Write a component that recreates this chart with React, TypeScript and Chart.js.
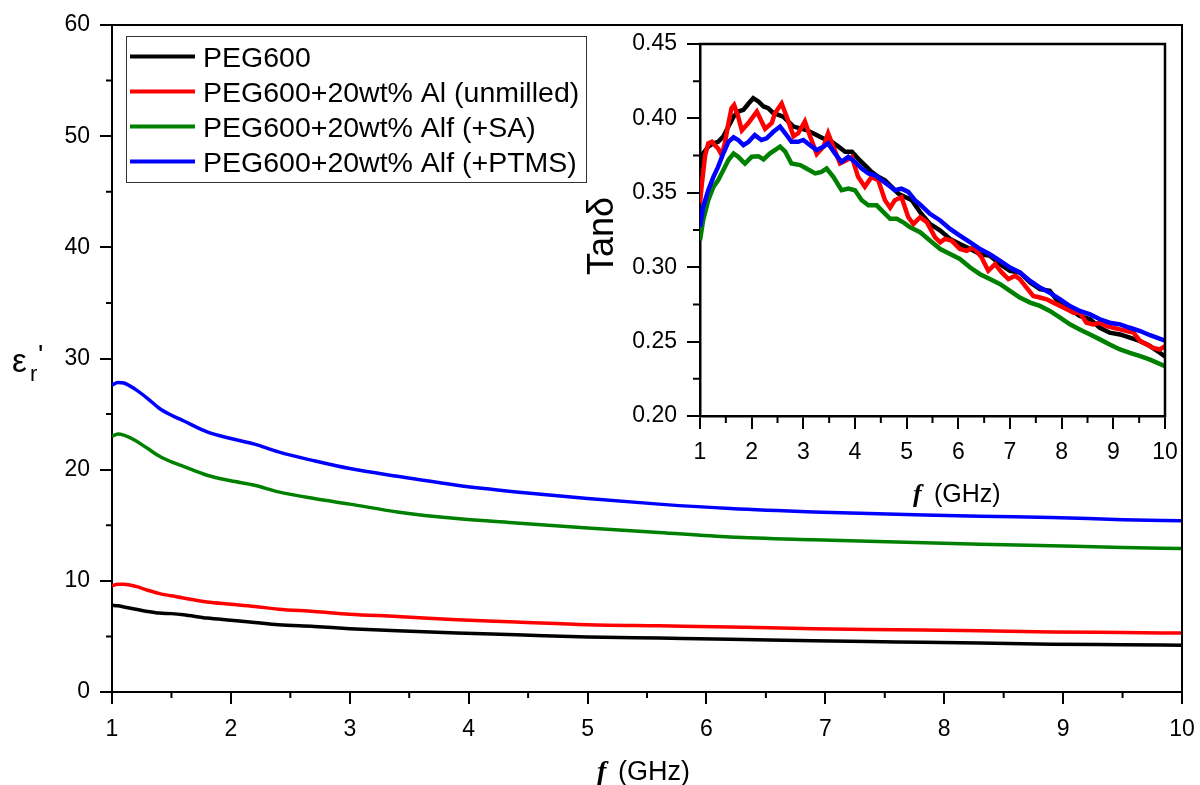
import React, { useEffect, useRef } from "react";
import { Chart, registerables } from "chart.js";

Chart.register(...registerables);

const SANS = '"Liberation Sans", Arial, sans-serif';
const SERIF = '"Liberation Serif", "Times New Roman", serif';

const seriesNames = [
  "PEG600",
  "PEG600+20wt% Al (unmilled)",
  "PEG600+20wt% Alf (+SA)",
  "PEG600+20wt% Alf (+PTMS)",
];
const seriesColors = ["#000000", "#ff0000", "#008000", "#0000ff"];

// ---- main chart: real permittivity vs frequency ----
const epsFreq = [1, 1.05, 1.1, 1.2, 1.3, 1.4, 1.5, 1.6, 1.8, 2.0, 2.2, 2.4, 2.7, 3.0, 3.4, 3.9, 4.4, 5.0, 5.6, 6.2, 6.9, 7.6, 8.3, 8.9, 9.5, 10];
const epsPEG = [7.8, 7.75, 7.65, 7.45, 7.25, 7.1, 7.05, 6.95, 6.65, 6.45, 6.25, 6.05, 5.9, 5.7, 5.5, 5.3, 5.15, 4.95, 4.85, 4.75, 4.6, 4.5, 4.4, 4.3, 4.25, 4.2];
const epsAl = [9.55, 9.7, 9.7, 9.5, 9.15, 8.85, 8.65, 8.45, 8.1, 7.9, 7.7, 7.45, 7.25, 7.0, 6.8, 6.5, 6.3, 6.05, 5.95, 5.85, 5.7, 5.6, 5.5, 5.4, 5.35, 5.3];
const epsSA = [23.0, 23.2, 23.1, 22.6, 21.9, 21.2, 20.7, 20.3, 19.5, 19.0, 18.6, 18.0, 17.4, 16.9, 16.2, 15.6, 15.2, 14.75, 14.35, 13.95, 13.7, 13.5, 13.3, 13.15, 13.0, 12.9];
const epsPTMS = [27.6, 27.85, 27.8, 27.2, 26.4, 25.5, 24.9, 24.4, 23.4, 22.8, 22.3, 21.6, 20.8, 20.1, 19.4, 18.6, 18.0, 17.4, 16.9, 16.5, 16.2, 16.0, 15.8, 15.7, 15.5, 15.4];

const mainXTicks = [1, 2, 3, 4, 5, 6, 7, 8, 9, 10];
const mainYTicks = [0, 10, 20, 30, 40, 50, 60];

// ---- inset: loss tangent vs frequency ----
const tanFreqPEG = [1.0, 1.03, 1.06, 1.16, 1.26, 1.35, 1.45, 1.55, 1.65, 1.74, 1.84, 1.94, 2.03, 2.13, 2.23, 2.32, 2.42, 2.52, 2.61, 2.71, 2.81, 2.94, 3.06, 3.19, 3.32, 3.45, 3.55, 3.68, 3.81, 3.94, 4.06, 4.19, 4.32, 4.45, 4.58, 4.71, 4.84, 4.97, 5.1, 5.26, 5.45, 5.65, 5.84, 6.03, 6.23, 6.42, 6.61, 6.81, 7.0, 7.19, 7.39, 7.58, 7.77, 7.97, 8.16, 8.35, 8.55, 8.74, 8.93, 9.13, 9.32, 9.52, 9.71, 9.9, 10.0];
const tanPEG = [0.36, 0.372, 0.3764, 0.381, 0.3832, 0.3843, 0.3877, 0.3945, 0.4012, 0.4046, 0.4057, 0.41, 0.4136, 0.4114, 0.408, 0.4069, 0.4035, 0.4024, 0.4012, 0.3978, 0.3945, 0.3933, 0.3922, 0.39, 0.3877, 0.3855, 0.3843, 0.381, 0.3776, 0.3776, 0.373, 0.3686, 0.3641, 0.3607, 0.3584, 0.354, 0.3494, 0.3472, 0.345, 0.337, 0.3291, 0.3246, 0.319, 0.3156, 0.3122, 0.3088, 0.3077, 0.3021, 0.2976, 0.2965, 0.2897, 0.2852, 0.2841, 0.2751, 0.2717, 0.2672, 0.265, 0.2593, 0.256, 0.2548, 0.2526, 0.2503, 0.247, 0.2425, 0.24];

const tanFreqAl = [1.0, 1.03, 1.1, 1.16, 1.23, 1.29, 1.35, 1.42, 1.48, 1.55, 1.61, 1.66, 1.73, 1.81, 1.94, 2.1, 2.26, 2.39, 2.45, 2.58, 2.68, 2.81, 2.9, 3.03, 3.13, 3.26, 3.39, 3.48, 3.58, 3.71, 3.84, 3.94, 4.06, 4.19, 4.32, 4.45, 4.58, 4.68, 4.77, 4.9, 5.03, 5.13, 5.26, 5.39, 5.55, 5.65, 5.74, 5.87, 6.03, 6.16, 6.29, 6.45, 6.58, 6.71, 6.84, 6.97, 7.1, 7.19, 7.32, 7.45, 7.58, 7.71, 7.84, 7.97, 8.1, 8.23, 8.35, 8.48, 8.61, 8.74, 8.87, 9.0, 9.13, 9.26, 9.39, 9.52, 9.65, 9.77, 9.9, 10.0];
const tanAl = [0.343, 0.354, 0.3753, 0.3832, 0.3843, 0.382, 0.3798, 0.3753, 0.3832, 0.3967, 0.4068, 0.409, 0.4023, 0.392, 0.397, 0.4046, 0.393, 0.397, 0.4035, 0.41, 0.401, 0.388, 0.39, 0.398, 0.388, 0.376, 0.381, 0.39, 0.381, 0.3697, 0.372, 0.374, 0.3607, 0.354, 0.3607, 0.3584, 0.345, 0.34, 0.345, 0.347, 0.3337, 0.329, 0.3336, 0.3303, 0.3201, 0.3167, 0.319, 0.3179, 0.3122, 0.311, 0.3133, 0.3066, 0.2976, 0.3021, 0.2965, 0.292, 0.2942, 0.292, 0.2863, 0.2807, 0.2796, 0.2784, 0.2762, 0.274, 0.2717, 0.2694, 0.2694, 0.2627, 0.2616, 0.2627, 0.2604, 0.2593, 0.2582, 0.2571, 0.256, 0.2503, 0.2481, 0.2458, 0.2447, 0.247];

const tanFreqSA = [1.0, 1.06, 1.16, 1.26, 1.35, 1.45, 1.55, 1.65, 1.74, 1.87, 2.0, 2.13, 2.23, 2.35, 2.55, 2.65, 2.77, 2.94, 3.06, 3.23, 3.35, 3.45, 3.58, 3.74, 3.87, 4.0, 4.13, 4.26, 4.42, 4.55, 4.68, 4.81, 4.94, 5.06, 5.26, 5.45, 5.65, 5.84, 6.03, 6.23, 6.42, 6.61, 6.81, 7.0, 7.19, 7.39, 7.58, 7.77, 7.97, 8.16, 8.35, 8.55, 8.74, 8.93, 9.13, 9.32, 9.52, 9.71, 10.0];
const tanSA = [0.318, 0.3314, 0.345, 0.354, 0.3584, 0.3652, 0.372, 0.3764, 0.3742, 0.3697, 0.3742, 0.3746, 0.3724, 0.3764, 0.381, 0.3776, 0.3697, 0.3686, 0.3663, 0.363, 0.3641, 0.3663, 0.3607, 0.3517, 0.3528, 0.3517, 0.345, 0.3416, 0.3416, 0.337, 0.3325, 0.3325, 0.33, 0.3269, 0.3235, 0.3179, 0.3122, 0.3088, 0.3055, 0.2998, 0.2953, 0.292, 0.2886, 0.2841, 0.2796, 0.2762, 0.274, 0.2706, 0.2661, 0.2616, 0.2582, 0.2548, 0.2515, 0.2481, 0.2447, 0.2424, 0.2402, 0.2379, 0.2334];

const tanFreqPTMS = [1.0, 1.06, 1.16, 1.26, 1.35, 1.45, 1.55, 1.65, 1.74, 1.84, 1.94, 2.06, 2.19, 2.29, 2.42, 2.55, 2.65, 2.77, 2.9, 3.0, 3.13, 3.26, 3.39, 3.48, 3.61, 3.74, 3.87, 4.0, 4.13, 4.26, 4.39, 4.52, 4.65, 4.77, 4.9, 5.03, 5.16, 5.26, 5.45, 5.65, 5.84, 6.03, 6.23, 6.42, 6.61, 6.81, 7.0, 7.19, 7.39, 7.58, 7.77, 7.97, 8.16, 8.35, 8.55, 8.74, 8.93, 9.13, 9.32, 9.52, 9.71, 10.0];
const tanPTMS = [0.327, 0.3404, 0.3517, 0.3607, 0.3674, 0.3764, 0.3843, 0.3873, 0.3855, 0.382, 0.3843, 0.3888, 0.3855, 0.3866, 0.391, 0.3945, 0.39, 0.3843, 0.3843, 0.3855, 0.382, 0.3787, 0.381, 0.3832, 0.3764, 0.3708, 0.3742, 0.3708, 0.3663, 0.363, 0.3618, 0.3584, 0.355, 0.3517, 0.3528, 0.3506, 0.345, 0.3422, 0.3359, 0.3314, 0.3257, 0.3212, 0.3167, 0.3122, 0.3088, 0.3043, 0.2998, 0.2965, 0.2908, 0.2863, 0.2829, 0.2784, 0.2739, 0.2706, 0.2683, 0.265, 0.2627, 0.2616, 0.2593, 0.2571, 0.2543, 0.2507];

const insetXTicks = [1, 2, 3, 4, 5, 6, 7, 8, 9, 10];
const insetYTicks = [0.2, 0.25, 0.3, 0.35, 0.4, 0.45];

const pts = (xs: number[], ys: number[]) => xs.map((x, i) => ({ x, y: ys[i] }));

function minorValues(ticks: number[]) {
  const out: number[] = [];
  for (let i = 0; i < ticks.length - 1; i++) out.push((ticks[i] + ticks[i + 1]) / 2);
  return out;
}

function frameAndMinorPlugin(id: string, frameWidth: number, minorLen: number) {
  return {
    id,
    afterDraw(chart: any) {
      const ctx = chart.ctx;
      const { left, right, top, bottom } = chart.chartArea;
      const xs = chart.scales.x;
      const ys = chart.scales.y;
      ctx.save();
      ctx.strokeStyle = "#000";
      ctx.lineWidth = frameWidth;
      ctx.lineCap = "square";
      ctx.beginPath();
      ctx.moveTo(left, top);
      ctx.lineTo(right, top);
      ctx.lineTo(right, bottom);
      ctx.stroke();
      ctx.lineCap = "butt";
      ctx.lineWidth = 2;
      const xt = xs.ticks.map((t: any) => t.value);
      const yt = ys.ticks.map((t: any) => t.value);
      ctx.beginPath();
      for (const v of minorValues(xt)) {
        const px = xs.getPixelForValue(v);
        ctx.moveTo(px, bottom);
        ctx.lineTo(px, bottom + minorLen);
      }
      for (const v of minorValues(yt)) {
        const py = ys.getPixelForValue(v);
        ctx.moveTo(left, py);
        ctx.lineTo(left - minorLen, py);
      }
      ctx.stroke();
      ctx.restore();
    },
  };
}

const mainDecor = {
  id: "mainDecor",
  afterDraw(chart: any) {
    const ctx = chart.ctx;
    ctx.save();
    // legend
    ctx.strokeStyle = "#333";
    ctx.lineWidth = 1;
    ctx.strokeRect(126.5, 36.5, 460, 146);
    chart.data.datasets.forEach((ds: any, i: number) => {
      const cy = 56.5 + i * 35;
      ctx.strokeStyle = ds.borderColor;
      ctx.lineWidth = 4;
      ctx.beginPath();
      ctx.moveTo(130, cy);
      ctx.lineTo(195, cy);
      ctx.stroke();
      ctx.fillStyle = "#000";
      ctx.font = `28.5px ${SANS}`;
      ctx.textAlign = "left";
      ctx.textBaseline = "alphabetic";
      ctx.fillText(ds.label, 203, cy + 10);
    });
    // y title  ε_r'
    ctx.fillStyle = "#000";
    ctx.font = `33px ${SANS}`;
    ctx.fillText("ε", 12, 372);
    ctx.font = `22px ${SANS}`;
    ctx.fillText("r", 30, 381);
    ctx.font = `28px ${SANS}`;
    ctx.fillText("'", 38, 364);
    // x title  f (GHz)
    ctx.font = `italic bold 28px ${SERIF}`;
    ctx.fillText("f", 597, 780);
    ctx.font = `27px ${SANS}`;
    ctx.fillText("(GHz)", 618, 780);
    ctx.restore();
  },
};

const insetDecor = {
  id: "insetDecor",
  afterDraw(chart: any) {
    const ctx = chart.ctx;
    ctx.save();
    ctx.fillStyle = "#000";
    // x title (canvas offset 560,0)
    ctx.font = `italic bold 26px ${SERIF}`;
    ctx.textBaseline = "alphabetic";
    ctx.fillText("f", 913 - 560, 502);
    ctx.font = `25px ${SANS}`;
    ctx.fillText("(GHz)", 934 - 560, 502);
    // y title
    ctx.translate(603 - 560, 236);
    ctx.rotate(-Math.PI / 2);
    ctx.font = `36px ${SANS}`;
    ctx.textAlign = "center";
    ctx.textBaseline = "middle";
    ctx.fillText("Tanδ", 0, 0);
    ctx.restore();
  },
};

function axisCommon(tickLen: number, pad: number, borderW: number) {
  return {
    type: "linear" as const,
    grid: {
      drawOnChartArea: false,
      drawTicks: true,
      tickLength: tickLen,
      color: "#000",
      lineWidth: 2,
    },
    border: { display: true, color: "#000", width: borderW },
    ticks: {
      color: "#000",
      font: { family: SANS, size: 23 },
      padding: pad,
      autoSkip: false,
      maxRotation: 0,
    },
  };
}

function fixX(h: number) {
  return (s: any) => {
    s.height = h;
    s.paddingLeft = 0;
    s.paddingRight = 0;
  };
}
function fixY(w: number) {
  return (s: any) => {
    s.width = w;
    s.paddingTop = 0;
    s.paddingBottom = 0;
  };
}

export default function App() {
  const mainRef = useRef<HTMLCanvasElement>(null);
  const insetRef = useRef<HTMLCanvasElement>(null);

  useEffect(() => {
    const mainData = [epsPEG, epsAl, epsSA, epsPTMS];
    const main = new Chart(mainRef.current!, {
      type: "line",
      data: {
        datasets: mainData.map((ys, i) => ({
          label: seriesNames[i],
          data: pts(epsFreq, ys),
          borderColor: seriesColors[i],
          backgroundColor: seriesColors[i],
          borderWidth: 3.5,
          pointRadius: 0,
          cubicInterpolationMode: "monotone" as const,
          order: 3 - i,
        })),
      },
      options: {
        responsive: false,
        animation: false,
        devicePixelRatio: 1,
        layout: { padding: { top: 25, right: 18, left: 0, bottom: 0 } },
        plugins: { legend: { display: false }, tooltip: { enabled: false } },
        scales: {
          x: {
            ...axisCommon(12, 12, 2),
            min: 1,
            max: 10,
            afterBuildTicks: (s: any) => {
              s.ticks = mainXTicks.map((v) => ({ value: v }));
            },
            afterFit: fixX(93),
          },
          y: {
            ...axisCommon(12, 10, 2),
            min: 0,
            max: 60,
            afterBuildTicks: (s: any) => {
              s.ticks = mainYTicks.map((v) => ({ value: v }));
            },
            afterFit: fixY(112),
          },
        },
      } as any,
      plugins: [frameAndMinorPlugin("mainFrame", 2, 6), mainDecor],
    });

    const insetX = [tanFreqPEG, tanFreqAl, tanFreqSA, tanFreqPTMS];
    const insetY = [tanPEG, tanAl, tanSA, tanPTMS];
    const inset = new Chart(insetRef.current!, {
      type: "line",
      data: {
        datasets: insetY.map((ys, i) => ({
          label: seriesNames[i],
          data: pts(insetX[i], ys),
          borderColor: seriesColors[i],
          backgroundColor: seriesColors[i],
          borderWidth: 4.5,
          pointRadius: 0,
          tension: 0,
          order: 3 - i,
        })),
      },
      options: {
        responsive: false,
        animation: false,
        devicePixelRatio: 1,
        layout: { padding: { top: 44, right: 15, left: 0, bottom: 0 } },
        plugins: { legend: { display: false }, tooltip: { enabled: false } },
        scales: {
          x: {
            ...axisCommon(13, 10, 2.5),
            min: 1,
            max: 10,
            afterBuildTicks: (s: any) => {
              s.ticks = insetXTicks.map((v) => ({ value: v }));
            },
            afterFit: fixX(104),
          },
          y: {
            ...axisCommon(13, 10, 2.5),
            min: 0.2,
            max: 0.45,
            ticks: {
              ...axisCommon(13, 10, 2.5).ticks,
              callback: (v: any) => Number(v).toFixed(2),
            },
            afterBuildTicks: (s: any) => {
              s.ticks = insetYTicks.map((v) => ({ value: v }));
            },
            afterFit: fixY(140),
          },
        },
      } as any,
      plugins: [frameAndMinorPlugin("insetFrame", 2.5, 7), insetDecor],
    });

    return () => {
      main.destroy();
      inset.destroy();
    };
  }, []);

  return (
    <div style={{ position: "absolute", left: 0, top: 0, width: 1200, height: 785, background: "#fff", overflow: "hidden" }}>
      <canvas ref={mainRef} width={1200} height={785} style={{ position: "absolute", left: 0, top: 0 }} />
      <canvas ref={insetRef} width={620} height={520} style={{ position: "absolute", left: 560, top: 0 }} />
    </div>
  );
}
